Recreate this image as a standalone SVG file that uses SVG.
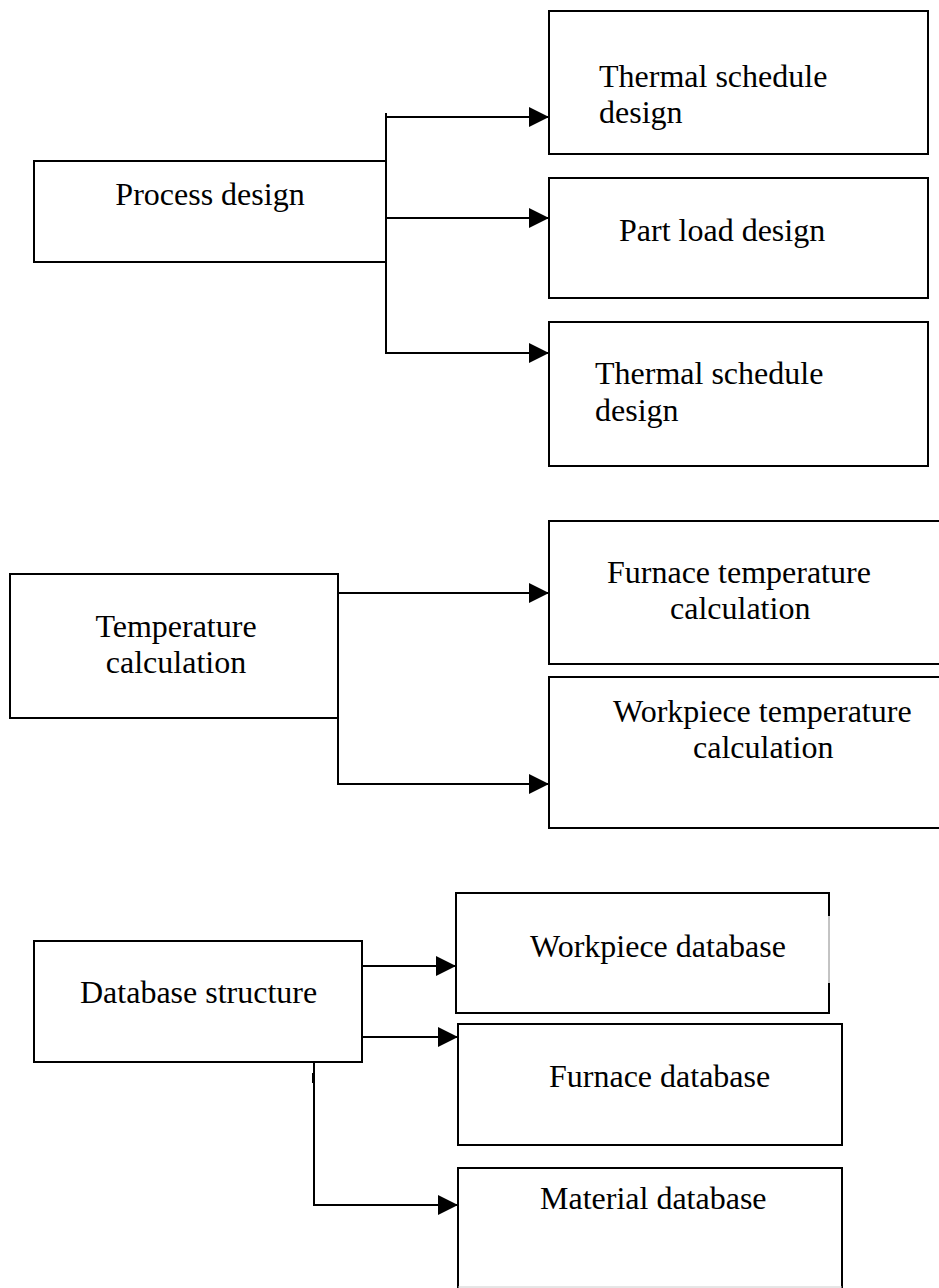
<svg xmlns="http://www.w3.org/2000/svg" width="939" height="1288" viewBox="0 0 939 1288">
  <style>
    .box { fill: #ffffff; stroke: #000000; stroke-width: 2; }
    .open { fill: none; stroke: #000000; stroke-width: 2; }
    .wire { fill: none; stroke: #000000; stroke-width: 2; }
    .lbl { font-family: "Liberation Serif", "Times New Roman", serif; font-size: 32px; fill: #000000; }
  </style>
  <defs>
    <marker id="head" markerUnits="userSpaceOnUse" markerWidth="20" markerHeight="20" refX="20" refY="10" orient="auto">
      <path d="M0,0 L20,10 L0,20 Z" fill="#000000"/>
    </marker>
  </defs>
  <rect width="939" height="1288" fill="#ffffff"/>

  <!-- Process design branch -->
  <g id="process-design">
    <rect class="box" x="34" y="161" width="352" height="101"/>
    <text class="lbl" x="210" y="205" text-anchor="middle">Process design</text>
  </g>
  <g id="thermal-schedule-1">
    <rect class="box" x="549" y="11" width="379" height="143"/>
    <text class="lbl" x="599" y="87">Thermal schedule</text>
    <text class="lbl" x="599" y="123">design</text>
  </g>
  <g id="part-load">
    <rect class="box" x="549" y="178" width="379" height="120"/>
    <text class="lbl" x="619" y="241">Part load design</text>
  </g>
  <g id="thermal-schedule-2">
    <rect class="box" x="549" y="322" width="379" height="144"/>
    <text class="lbl" x="595" y="384">Thermal schedule</text>
    <text class="lbl" x="595" y="421">design</text>
  </g>

  <!-- Temperature calculation branch -->
  <g id="temperature-calculation">
    <rect class="box" x="10" y="574" width="328" height="144"/>
    <text class="lbl" x="176" y="637" text-anchor="middle">Temperature</text>
    <text class="lbl" x="176" y="673" text-anchor="middle">calculation</text>
  </g>
  <g id="furnace-temperature">
    <path class="open" d="M940,521 H549 V664 H940"/>
    <text class="lbl" x="607" y="583">Furnace temperature</text>
    <text class="lbl" x="670" y="619">calculation</text>
  </g>
  <g id="workpiece-temperature">
    <path class="open" d="M940,677 H549 V828 H940"/>
    <text class="lbl" x="613" y="722">Workpiece temperature</text>
    <text class="lbl" x="693" y="758">calculation</text>
  </g>

  <!-- Database structure branch -->
  <g id="database-structure">
    <rect class="box" x="34" y="941" width="328" height="121"/>
    <text class="lbl" x="80" y="1003">Database structure</text>
  </g>
  <g id="workpiece-database">
    <path class="open" d="M829,916 V893 H456 V1013 H829 V983"/>
    <line x1="829" y1="916" x2="829" y2="983" stroke="#888888" stroke-width="1"/>
    <text class="lbl" x="530" y="957">Workpiece database</text>
  </g>
  <g id="furnace-database">
    <rect class="box" x="458" y="1024" width="384" height="121"/>
    <text class="lbl" x="549" y="1087">Furnace database</text>
  </g>
  <g id="material-database">
    <path class="open" d="M458,1288 V1168 H842 V1288"/>
    <line x1="458" y1="1287" x2="842" y2="1287" stroke="#cccccc" stroke-width="1"/>
    <text class="lbl" x="540" y="1209">Material database</text>
  </g>

  <!-- Connectors -->
  <g id="connectors">
    <line class="wire" x1="386" y1="113" x2="386" y2="354"/>
    <line class="wire" x1="386" y1="117" x2="549" y2="117" marker-end="url(#head)"/>
    <line class="wire" x1="386" y1="218" x2="549" y2="218" marker-end="url(#head)"/>
    <line class="wire" x1="386" y1="353" x2="549" y2="353" marker-end="url(#head)"/>

    <line class="wire" x1="338" y1="593" x2="549" y2="593" marker-end="url(#head)"/>
    <path class="wire" d="M338,718 V784 H549" marker-end="url(#head)"/>

    <line class="wire" x1="362" y1="966" x2="456" y2="966" marker-end="url(#head)"/>
    <line class="wire" x1="362" y1="1037" x2="458" y2="1037" marker-end="url(#head)"/>
    <path class="wire" d="M314,1062 V1205 H458" marker-end="url(#head)"/>
    <rect x="312" y="1073" width="3" height="10" fill="#000000"/>
  </g>
</svg>
